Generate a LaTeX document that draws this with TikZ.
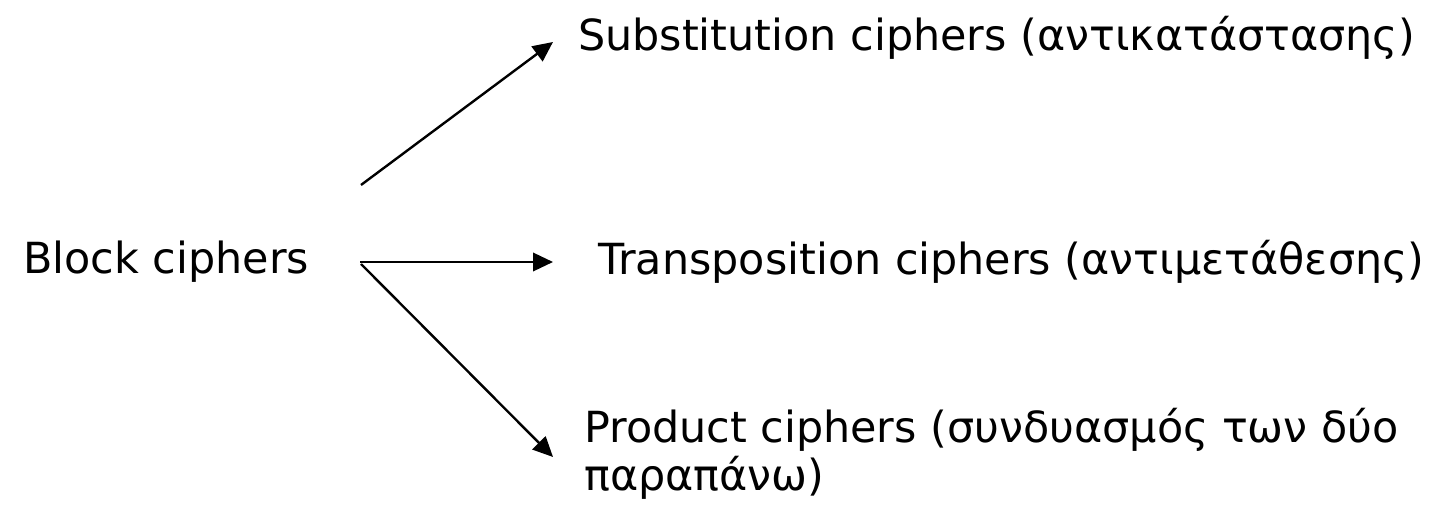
\documentclass[tikz,border=0pt]{standalone}
\usepackage{fontspec}
\setmainfont{DejaVu Sans}
\usetikzlibrary{arrows.meta}

\begin{document}
\begin{tikzpicture}[
            > = {Triangle[length=5mm, width=4.6mm]}, % arrow head style
            line width = 1.7pt, % line style
            every node/.style = {font=\fontsize{30.5}{34}\selectfont, inner sep=0pt}
        ]

        \useasboundingbox (0,0) rectangle (35.9,12.7);

        \tikzstyle{kind}=[
            anchor = west,
            align = left
        ]

        \node[kind] (block) at (0.55,6.15) {Block ciphers};
        \node[kind] (subst) at (14.425,11.75) {Substitution ciphers (αντικατάστασης)};
        \node[kind] (trans) at (14.925,6.15) {Transposition ciphers (αντιμετάθεσης)};
        \node[kind] (prod) at (14.575,1.35) {Product ciphers (συνδυασμός των δύο\\παραπάνω)};

        \coordinate (up) at (9.025,8.075);
        \coordinate (mid) at (9.0,6.15);
        \coordinate (down) at (9.025,6.1);
        \coordinate (upend) at (13.825,11.65);
        \coordinate (midend) at (13.825,6.15);
        \coordinate (downend) at (13.825,1.275);

	\draw[->] (up) -- (upend);
	\draw[->] (mid) -- (midend);
	\draw[->] (down) -- (downend);
    \end{tikzpicture}
\end{document}
